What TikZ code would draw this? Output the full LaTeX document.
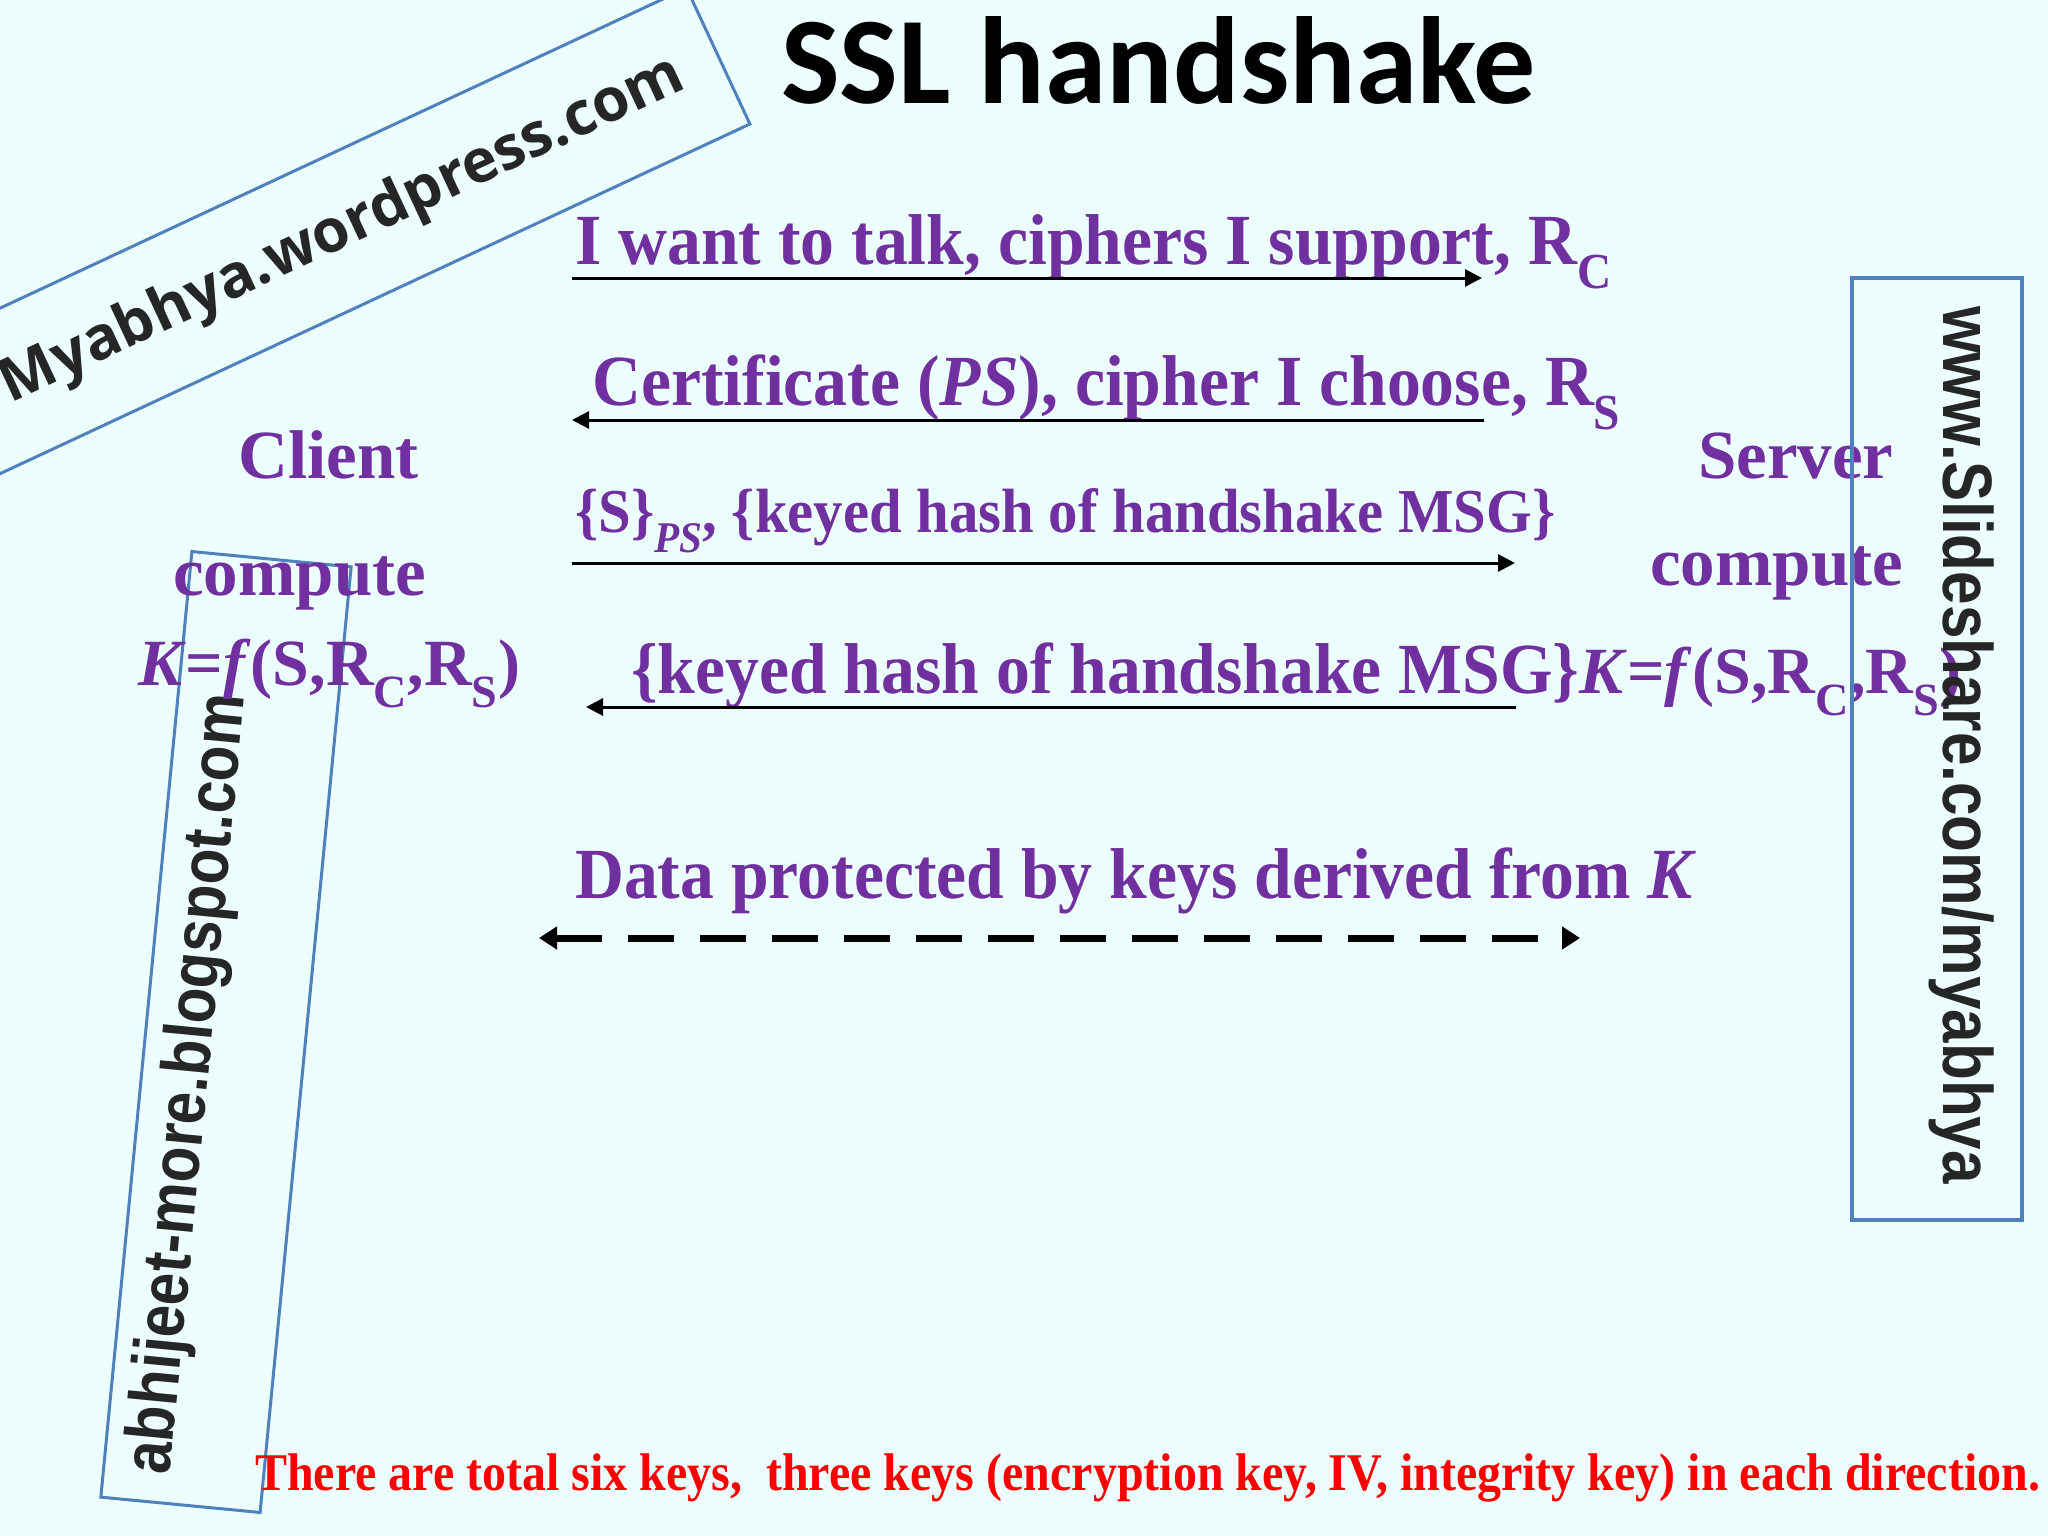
\documentclass[tikz,border=0pt]{standalone}
\usepackage{fontspec}
\setmainfont{Liberation Serif}
\newfontfamily\msgfont[FakeStretch=0.94]{Liberation Serif}
\newfontfamily\notefont[FakeStretch=0.905]{Liberation Serif}
\newfontfamily\titlefont{Carlito}
\newfontfamily\markfont{Open Sans}
\newfontfamily\narrowfont[FakeStretch=0.86]{Liberation Sans}
\usetikzlibrary{arrows.meta}
\definecolor{slidebg}{RGB}{236,254,254}
\definecolor{msgpurple}{RGB}{112,48,160}
\definecolor{markblue}{RGB}{79,129,189}

\begin{document}
\begin{tikzpicture}[x=1pt, y=-1pt,
  msg/.style = {inner sep=0, anchor=base west, text=msgpurple, font=\msgfont\bfseries\fontsize{72}{80}\selectfont},
  sidelabel/.style = {inner sep=0, anchor=base west, text=msgpurple, font=\bfseries\fontsize{69}{76}\selectfont},
  msgarrow/.style = {line width=3pt, -{Triangle[length=17pt,width=17pt]}},
  wmbox/.style = {draw=markblue, line width=3pt, inner sep=0, text=black!85},
  wmtext/.style = {inner sep=0, text=black!85, font=\narrowfont\bfseries\fontsize{68}{68}\selectfont},
  ]

        \useasboundingbox (0,0) rectangle (2048,1536);
        \fill[slidebg] (0,0) rectangle (2048,1536);
        \clip (0,0) rectangle (2048,1536);

        \node[wmbox, rotate=25, minimum width=828pt, minimum height=150pt, font=\markfont\bfseries\fontsize{60}{60}\selectfont] (wm1) at (343,231) {Myabhya.wordpress.com};
        \node[wmbox, rotate=84.5, minimum width=950pt, minimum height=160pt] (wm2) at (226,1032) {};
        \node[wmtext, rotate=84.5] (wm2txt) at (190,1084) {abhijeet-more.blogspot.com};

        \node[inner sep=0, anchor=base west, font=\titlefont\bfseries\fontsize{124}{126}\selectfont] (title) at (781,104) {SSL handshake};

        \node[sidelabel] (client) at (238,478) {Client};
        \node[sidelabel] (ccomp) at (173,595) {compute};
        \node[sidelabel, font=\bfseries\fontsize{66}{72}\selectfont] (ckey) at (138,685) {\textit{K}=\textit{f}(S,R\textsubscript{C},R\textsubscript{S})};
        \node[sidelabel] (server) at (1698,478) {Server};
        \node[sidelabel] (scomp) at (1650,585) {compute};

        \node[msg] (m1) at (575,264) {I want to talk, ciphers I support, R\textsubscript{C}};
        \node[msg] (m2) at (592,405) {Certificate (\textit{PS}), cipher I choose, R\textsubscript{S}};
        \node[msg, font=\msgfont\bfseries\fontsize{62.5}{68}\selectfont] (m3) at (575,532) {\{S\}\textsubscript{\textit{PS}}, \{keyed hash of handshake MSG\}};
        \node[msg] (m4) at (631,693) {\{keyed hash of handshake MSG\}{\rmfamily\fontsize{66}{72}\selectfont\textit{K}=\textit{f}(S,R\textsubscript{C},R\textsubscript{S})}};
        \node[msg] (m5) at (575,898) {Data protected by keys derived from \textit{K}};

        \coordinate (c1) at (572,278);  \coordinate (s1) at (1482,278);
        \coordinate (c2) at (572,420);  \coordinate (s2) at (1484,420);
        \coordinate (c3) at (572,563);  \coordinate (s3) at (1515,563);
        \coordinate (c4) at (586,707);  \coordinate (s4) at (1516,707);
        \coordinate (c5) at (539,938);  \coordinate (s5) at (1580,938);

        \draw[msgarrow] (c1) -- (s1);
        \draw[msgarrow] (s2) -- (c2);
        \draw[msgarrow] (c3) -- (s3);
        \draw[msgarrow] (s4) -- (c4);
        \draw[line width=7pt, dash pattern=on 46pt off 26pt, {Triangle[length=18pt,width=22pt]}-{Triangle[length=18pt,width=22pt]}] (c5) -- (s5);

        \node[wmbox, line width=4pt, minimum width=170pt, minimum height=942pt] (wm3) at (1937,749) {};
        \node[wmtext, rotate=-90, font=\narrowfont\bfseries\fontsize{70}{70}\selectfont] (wm3txt) at (1962,745) {www.Slideshare.com/myabhya};

        \node[inner sep=0, anchor=base west, text=red, font=\notefont\bfseries\fontsize{53}{60}\selectfont] (note) at (255,1490) {There are total six keys,~ three keys (encryption key, IV, integrity key) in each direction.};

\end{tikzpicture}
\end{document}
